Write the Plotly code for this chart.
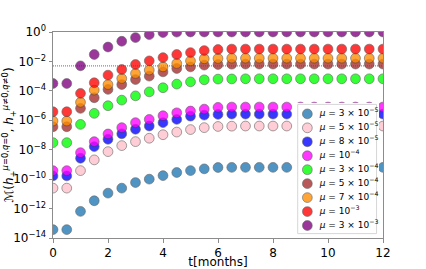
import plotly.graph_objects as go

# time axis (months)
t_months = [0, 0.5, 1, 1.5, 2, 2.5, 3, 3.5, 4, 4.5, 5, 5.5, 6, 6.5, 7, 7.5, 8, 8.5, 9, 9.5, 10, 10.5, 11, 11.5, 12]

# log10 of the mismatch values, one list per mu
log10_mu_3e5 = [-13.43, -13.43, -12.19, -11.47, -10.95, -10.61, -10.23, -10.00, -9.76, -9.55, -9.42, -9.30, -9.21, -9.20, -9.20, -9.20, -9.20, -9.20, -9.20, -9.20, -9.20, -9.20, -9.20, -9.20, -9.20]
log10_mu_5e5 = [-10.61, -10.61, -9.42, -8.69, -8.13, -7.72, -7.45, -7.22, -6.98, -6.80, -6.63, -6.50, -6.42, -6.40, -6.39, -6.39, -6.39, -6.39, -6.39, -6.39, -6.39, -6.39, -6.39, -6.39, -6.39]
log10_mu_8e5 = [-9.78, -9.78, -8.58, -7.79, -7.29, -6.92, -6.61, -6.39, -6.16, -5.94, -5.72, -5.65, -5.60, -5.58, -5.58, -5.58, -5.58, -5.58, -5.58, -5.58, -5.58, -5.58, -5.58, -5.58, -5.58]
log10_mu_1e4 = [-9.42, -9.42, -8.20, -7.45, -6.93, -6.50, -6.16, -5.94, -5.69, -5.49, -5.37, -5.24, -5.12, -5.10, -5.10, -5.10, -5.10, -5.10, -5.10, -5.10, -5.10, -5.10, -5.10, -5.10, -5.10]
log10_mu_3e4 = [-7.52, -7.52, -6.28, -5.53, -5.01, -4.63, -4.34, -4.07, -3.79, -3.54, -3.39, -3.25, -3.20, -3.19, -3.18, -3.18, -3.18, -3.18, -3.18, -3.18, -3.18, -3.18, -3.18, -3.18, -3.18]
log10_mu_5e4 = [-6.44, -6.44, -5.19, -4.47, -3.90, -3.57, -3.23, -3.00, -2.71, -2.48, -2.37, -2.25, -2.21, -2.19, -2.18, -2.18, -2.18, -2.18, -2.18, -2.18, -2.18, -2.18, -2.18, -2.18, -2.18]
log10_mu_7e4 = [-6.05, -6.05, -4.78, -3.95, -3.57, -3.16, -2.82, -2.59, -2.37, -2.14, -1.96, -1.82, -1.80, -1.78, -1.78, -1.78, -1.78, -1.78, -1.78, -1.78, -1.78, -1.78, -1.78, -1.78, -1.78]
log10_mu_1e3 = [-5.42, -5.42, -4.17, -3.45, -2.93, -2.55, -2.21, -1.96, -1.74, -1.53, -1.40, -1.26, -1.19, -1.16, -1.16, -1.16, -1.16, -1.16, -1.16, -1.16, -1.16, -1.16, -1.16, -1.16, -1.16]
log10_mu_3e3 = [-3.50, -3.50, -2.30, -1.53, -1.02, -0.63, -0.38, -0.18, -0.04, -0.01, 0.0, 0.0, 0.0, 0.0, 0.0, 0.0, 0.0, 0.0, 0.0, 0.0, 0.0, 0.0, 0.0, 0.0, 0.0]

series_logs = [log10_mu_3e5, log10_mu_5e5, log10_mu_8e5, log10_mu_1e4, log10_mu_3e4,
               log10_mu_5e4, log10_mu_7e4, log10_mu_1e3, log10_mu_3e3]
series_labels = ["<i>μ</i> = 3 × 10<sup>−5</sup>", "<i>μ</i> = 5 × 10<sup>−5</sup>",
                 "<i>μ</i> = 8 × 10<sup>−5</sup>", "<i>μ</i> = 10<sup>−4</sup>",
                 "<i>μ</i> = 3 × 10<sup>−4</sup>", "<i>μ</i> = 5 × 10<sup>−4</sup>",
                 "<i>μ</i> = 7 × 10<sup>−4</sup>", "<i>μ</i> = 10<sup>−3</sup>",
                 "<i>μ</i> = 3 × 10<sup>−3</sup>"]
series_colors = ["#1f77b4", "#ffc0cb", "#0000ff", "#ff00ff", "#00ff00",
                 "#a52a2a", "#ff8c00", "#ff0000", "#800080"]

threshold = 5e-3
x_ticks = [0, 2, 4, 6, 8, 10, 12]
y_tick_exps = [0, -2, -4, -6, -8, -10, -12, -14]

FONT = "DejaVu Sans"
AXC = "#8c8c8c"
fig = go.Figure()

# dotted threshold line
fig.add_trace(go.Scatter(x=[t_months[0], t_months[-1]], y=[threshold, threshold], mode="lines",
                         line=dict(color="#8a8a8a", width=1.2, dash="1px,1px"),
                         showlegend=False, hoverinfo="skip"))

for logs, lab, col in zip(series_logs, series_labels, series_colors):
    fig.add_trace(go.Scatter(
        x=t_months, y=[10 ** v for v in logs], mode="markers", name=lab,
        marker=dict(size=9.8, color=col, opacity=0.78, line=dict(color="#3a3a3a", width=0.6)),
        showlegend=False))

# hand-built legend on its own small axes (matplotlib-like compact rows)
n = len(series_labels)
row_idx = list(range(n))
fig.add_trace(go.Scatter(
    x=[0] * n, y=row_idx, mode="markers", xaxis="x2", yaxis="y2",
    marker=dict(size=9.8, color=series_colors, opacity=0.78, line=dict(color="#3a3a3a", width=0.6)),
    showlegend=False, hoverinfo="skip"))
fig.add_trace(go.Scatter(
    x=[1] * n, y=row_idx, mode="text", text=series_labels, textposition="middle right",
    textfont=dict(family=FONT, size=9, color="black"), xaxis="x2", yaxis="y2",
    showlegend=False, hoverinfo="skip"))

# legend frame (in legend-axes units: x marker col=0, text col=1; rows 0..n-1)
fig.add_shape(type="rect", xref="x2", yref="y2", x0=-0.78, x1=5.6, y0=-0.68, y1=n - 1 + 0.58,
              fillcolor="rgba(255,255,255,0.8)", line=dict(color="rgba(210,210,210,0.9)", width=1),
              layer="below")

fig.update_layout(
    width=426, height=269,
    margin=dict(l=53, r=43, t=32, b=31, autoexpand=False),
    paper_bgcolor="white", plot_bgcolor="white",
    font=dict(family=FONT, size=12, color="black"),
    showlegend=False,
    xaxis=dict(range=[0, 12], tickvals=x_ticks, ticktext=[str(v) for v in x_ticks], automargin=True,
               showgrid=False, zeroline=False, showline=True, mirror=True, linecolor=AXC, linewidth=1,
               ticks="outside", ticklen=3.5, tickcolor=AXC, tickfont=dict(size=12),
               title=dict(text="t[months]", font=dict(size=12), standoff=3)),
    yaxis=dict(type="log", range=[-14, 0], tickvals=[10 ** e for e in y_tick_exps], automargin=False,
               ticktext=["10<sup>%s</sup>" % (str(e).replace("-", "−")) for e in y_tick_exps],
               showgrid=False, zeroline=False, showline=True, mirror=True, linecolor=AXC, linewidth=1,
               ticks="outside", ticklen=3.5, tickcolor=AXC, tickfont=dict(size=12),
               title=dict(text="ℳ(<i>h</i><sub>+</sub><sup><i>μ</i>=0,<i>q</i>=0</sup>, <i>h</i><sub>+</sub><sup><i>μ</i>≠0,<i>q</i>≠0</sup>)",
                          font=dict(size=12), standoff=2)),
    xaxis2=dict(domain=[0.7333, 0.9879], range=[-1.0, 5.8], visible=False, fixedrange=True, automargin=False),
    yaxis2=dict(domain=[0.0146, 0.6553], range=[n - 1 + 0.68, -0.78], visible=False, fixedrange=True, automargin=False),
)

fig.write_html("out.html", config={"displayModeBar": False, "staticPlot": True},
               post_script="document.body.style.margin='0';document.body.style.overflow='hidden';")
